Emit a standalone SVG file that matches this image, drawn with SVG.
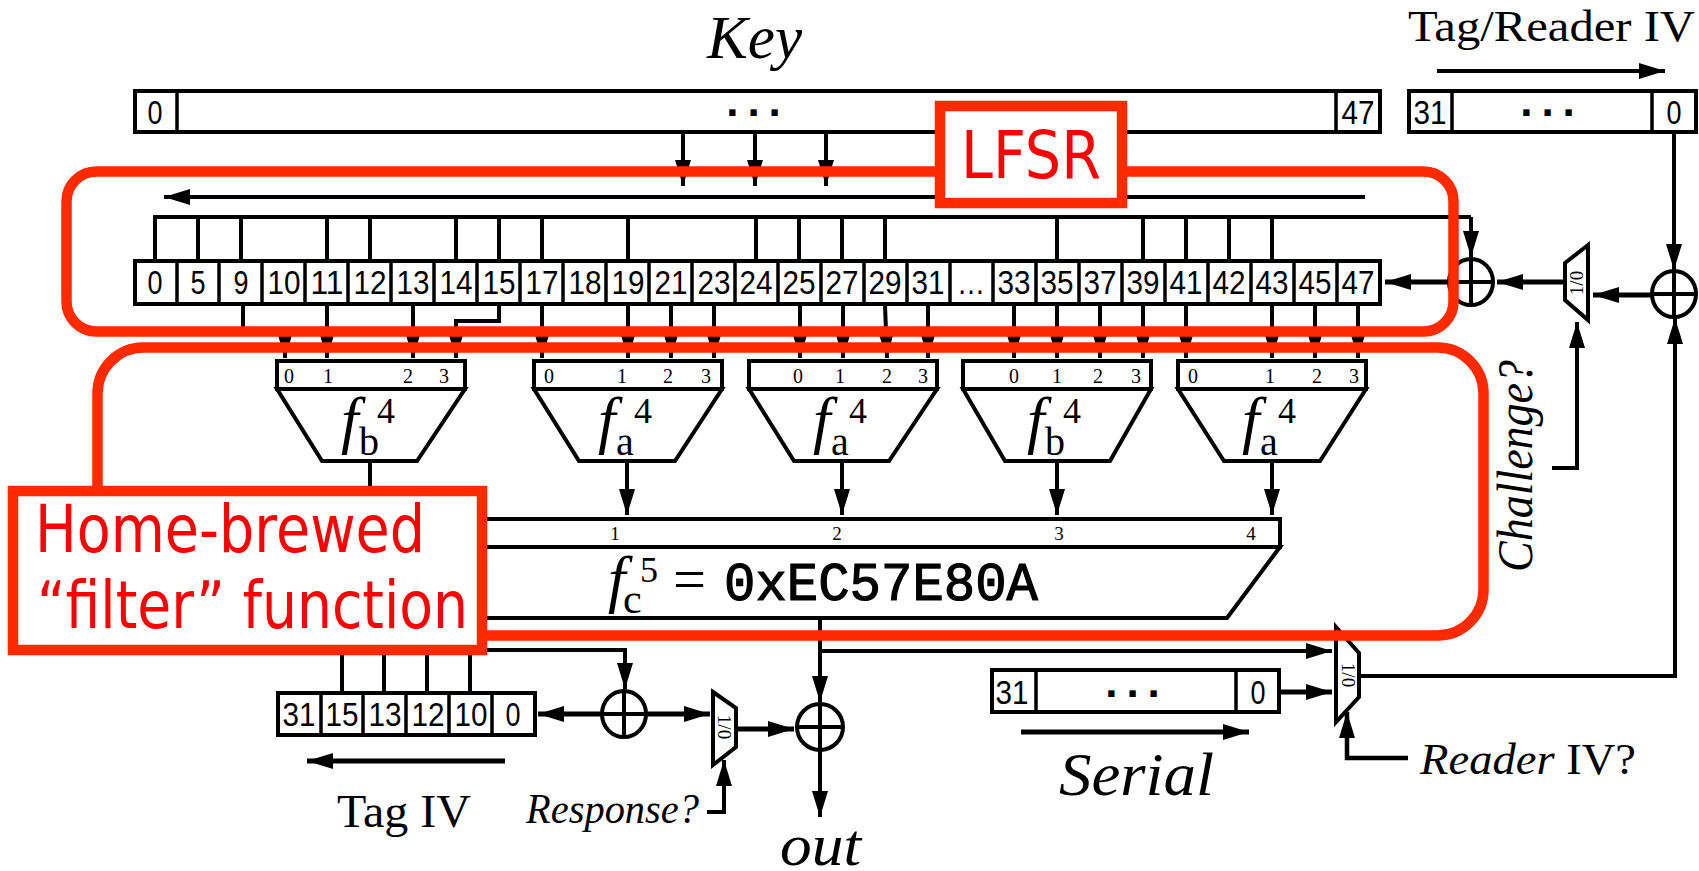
<svg xmlns="http://www.w3.org/2000/svg" width="1699" height="871" viewBox="0 0 1699 871">
<style>
.b{fill:#fff;stroke:#000;stroke-width:4}
.n{fill:none;stroke:#000;stroke-width:4}
.a{fill:none;stroke:#000;stroke-width:4;marker-end:url(#h)}
.t{fill:none;stroke:#000;stroke-width:3.5}
.s{font-family:"Liberation Sans",Arial,sans-serif;font-size:33px;text-anchor:middle;fill:#000}
.r{font-family:"Liberation Serif","Times New Roman",serif;fill:#000}
.i{font-style:italic}
.p{font-size:20px;text-anchor:middle}
.f{font-size:63px;font-style:italic}
.u{font-size:36px}
.v{font-size:40px}
.red{fill:none;stroke:#ff2a00;stroke-width:10.5}
.rb{fill:#fff;stroke:#ff2a00;stroke-width:10.5}
.rt{font-family:"DejaVu Sans",Tahoma,sans-serif;font-size:65px;fill:#f00}
.d{font-family:"Liberation Sans",Arial,sans-serif;font-weight:bold;font-size:44px;letter-spacing:9px;text-anchor:middle;fill:#000}
.m{font-size:19px;text-anchor:middle}
</style>
<defs>
<marker id="h" markerUnits="userSpaceOnUse" markerWidth="27" markerHeight="18" refX="26" refY="9" orient="auto"><path d="M0 1 L26 9 L0 17 Z" fill="#000"/></marker>
</defs>
<rect width="1699" height="871" fill="#fff"/>

<text id="label-key" class="r i" x="707" y="58" font-size="62" textLength="95" lengthAdjust="spacingAndGlyphs">Key</text>
<text id="label-tagreader" class="r" x="1408" y="41" font-size="45" textLength="287" lengthAdjust="spacingAndGlyphs">Tag/Reader IV</text>
<text id="label-tagiv" class="r" x="337" y="827" font-size="46" textLength="134" lengthAdjust="spacingAndGlyphs">Tag IV</text>
<text id="label-response" class="r i" x="526" y="823" font-size="43" textLength="173" lengthAdjust="spacingAndGlyphs">Response?</text>
<text id="label-out" class="r i" x="780" y="865" font-size="60" textLength="81" lengthAdjust="spacingAndGlyphs">out</text>
<text id="label-serial" class="r i" x="1059" y="795" font-size="62" textLength="155" lengthAdjust="spacingAndGlyphs">Serial</text>
<text id="label-readeriv" class="r" x="1420" y="774" font-size="45" textLength="216" lengthAdjust="spacingAndGlyphs"><tspan class="i">Reader</tspan> IV?</text>
<text id="label-challenge" class="r i" transform="translate(1532 572) rotate(-90)" font-size="50" textLength="212" lengthAdjust="spacingAndGlyphs">Challenge?</text>

<g id="connectors">
<path class="a" d="M683 133V186"/><path class="a" d="M755 133V186"/><path class="a" d="M826 133V186"/>
<path class="a" d="M1365 197H164"/>
<path class="a" d="M1437 71H1665"/>
<path class="n" d="M155 259V217H1471"/>
<path class="a" d="M1471 217V257"/>
<path class="n" d="M198 217V259M241 217V259M327 217V259M370 217V259M456 217V259M499 217V259M542 217V259M628 217V259M756 217V259M799 217V259M842 217V259M885 217V259M1057 217V259M1143 217V259M1186 217V259M1229 217V259M1272 217V259"/>
<path class="a" d="M243 305V331H285V358"/>
<path class="a" d="M327 305V358"/><path class="a" d="M413 305V358"/>
<path class="a" d="M499 305V321H456V358"/>
<path class="a" d="M542 305V358"/><path class="a" d="M628 305V358"/><path class="a" d="M671 305V358"/><path class="a" d="M714 305V358"/>
<path class="a" d="M800 305V358"/><path class="a" d="M843 305V358"/><path class="a" d="M885 305L887 358"/><path class="a" d="M928 305V358"/>
<path class="a" d="M1014 305V358"/><path class="a" d="M1057 305V358"/><path class="a" d="M1100 305V358"/><path class="a" d="M1143 305V358"/><path class="a" d="M1186 305V358"/>
<path class="a" d="M1272 305V358"/><path class="a" d="M1315 305V358"/><path class="a" d="M1358 305V358"/>
<path class="a" d="M1471 282H1385" style="stroke-width:5"/>
<path class="a" d="M1565 282H1497" style="stroke-width:5"/>
<path class="a" d="M1674 133V270"/>
<path class="a" d="M1674 295H1593" style="stroke-width:5"/>
<path class="a" d="M1361 676H1675V318"/>
<path class="a" d="M1552 468H1577V322"/>
<path class="n" d="M370 461V520"/>
<path class="a" d="M627 461V515"/><path class="a" d="M842 461V515"/><path class="a" d="M1057 461V515"/><path class="a" d="M1272 461V515"/>
<path class="a" d="M820 618V702"/>
<path class="a" d="M820 651H1332"/>
<path class="a" d="M820 750V817"/>
<path class="a" d="M460 650H625V689"/>
<path class="a" d="M624 714H538" style="stroke-width:5"/>
<path class="a" d="M624 714H710" style="stroke-width:5"/>
<path class="a" d="M736 729H794" style="stroke-width:5"/>
<path class="a" d="M707 812H724V760"/>
<path class="a" d="M1280 692H1332" style="stroke-width:5"/>
<path class="a" d="M1408 758H1347V712" style="stroke-width:4.500"/>
<path class="n" d="M342 655V692M384 655V692M427 655V692M470 655V692"/>
<path class="a" d="M505 761H307" style="stroke-width:5"/>
<path class="a" d="M1021 732H1249" style="stroke-width:5"/>
</g>

<g id="key">
<rect class="b" x="135" y="91" width="1245" height="41"/>
<path class="t" d="M177 91V132M1336 91V132"/>
<text class="s" x="155" y="124" textLength="15" lengthAdjust="spacingAndGlyphs">0</text><text class="d" x="758" y="116">...</text><text class="s" x="1358" y="124" textLength="33" lengthAdjust="spacingAndGlyphs">47</text>
</g>
<g id="tag-reader-iv">
<rect class="b" x="1409" y="91" width="287" height="41"/>
<path class="t" d="M1452 91V132M1652 91V132"/>
<text class="s" x="1430" y="124" textLength="33" lengthAdjust="spacingAndGlyphs">31</text><text class="d" x="1552" y="116">...</text><text class="s" x="1674" y="124" textLength="15" lengthAdjust="spacingAndGlyphs">0</text>
</g>
<g id="lfsr-register">
<rect class="b" x="135" y="261" width="1245" height="43"/>
<path class="t" d="M177 261V304M219 261V304M262 261V304M305 261V304M348 261V304M391 261V304M434 261V304M477 261V304M520 261V304M563 261V304M606 261V304M649 261V304M692 261V304M735 261V304M778 261V304M821 261V304M864 261V304M907 261V304M950 261V304M993 261V304M1036 261V304M1079 261V304M1122 261V304M1165 261V304M1208 261V304M1251 261V304M1294 261V304M1337 261V304"/>
<text class="s" x="155" y="294" textLength="15" lengthAdjust="spacingAndGlyphs">0</text><text class="s" x="198" y="294" textLength="15" lengthAdjust="spacingAndGlyphs">5</text><text class="s" x="241" y="294" textLength="15" lengthAdjust="spacingAndGlyphs">9</text><text class="s" x="284" y="294" textLength="33" lengthAdjust="spacingAndGlyphs">10</text><text class="s" x="327" y="294" textLength="33" lengthAdjust="spacingAndGlyphs">11</text><text class="s" x="370" y="294" textLength="33" lengthAdjust="spacingAndGlyphs">12</text><text class="s" x="413" y="294" textLength="33" lengthAdjust="spacingAndGlyphs">13</text><text class="s" x="456" y="294" textLength="33" lengthAdjust="spacingAndGlyphs">14</text><text class="s" x="499" y="294" textLength="33" lengthAdjust="spacingAndGlyphs">15</text><text class="s" x="542" y="294" textLength="33" lengthAdjust="spacingAndGlyphs">17</text><text class="s" x="585" y="294" textLength="33" lengthAdjust="spacingAndGlyphs">18</text><text class="s" x="628" y="294" textLength="33" lengthAdjust="spacingAndGlyphs">19</text><text class="s" x="671" y="294" textLength="33" lengthAdjust="spacingAndGlyphs">21</text><text class="s" x="714" y="294" textLength="33" lengthAdjust="spacingAndGlyphs">23</text><text class="s" x="756" y="294" textLength="33" lengthAdjust="spacingAndGlyphs">24</text><text class="s" x="799" y="294" textLength="33" lengthAdjust="spacingAndGlyphs">25</text><text class="s" x="842" y="294" textLength="33" lengthAdjust="spacingAndGlyphs">27</text><text class="s" x="885" y="294" textLength="33" lengthAdjust="spacingAndGlyphs">29</text><text class="s" x="928" y="294" textLength="33" lengthAdjust="spacingAndGlyphs">31</text><text class="s" x="971" y="294" textLength="28" lengthAdjust="spacingAndGlyphs">…</text><text class="s" x="1014" y="294" textLength="33" lengthAdjust="spacingAndGlyphs">33</text><text class="s" x="1057" y="294" textLength="33" lengthAdjust="spacingAndGlyphs">35</text><text class="s" x="1100" y="294" textLength="33" lengthAdjust="spacingAndGlyphs">37</text><text class="s" x="1143" y="294" textLength="33" lengthAdjust="spacingAndGlyphs">39</text><text class="s" x="1186" y="294" textLength="33" lengthAdjust="spacingAndGlyphs">41</text><text class="s" x="1229" y="294" textLength="33" lengthAdjust="spacingAndGlyphs">42</text><text class="s" x="1272" y="294" textLength="33" lengthAdjust="spacingAndGlyphs">43</text><text class="s" x="1315" y="294" textLength="33" lengthAdjust="spacingAndGlyphs">45</text><text class="s" x="1358" y="294" textLength="33" lengthAdjust="spacingAndGlyphs">47</text>
</g>
<g id="xor-feedback"><ellipse class="b" cx="1471" cy="282" rx="22" ry="23"/><path class="n" d="M1449 282H1493M1471 259V305"/></g>
<g id="xor-input"><ellipse class="b" cx="1674" cy="294" rx="22" ry="23"/><path class="n" d="M1652 294H1696M1674 271V317"/></g>
<g id="mux-challenge"><path class="b" d="M1565 263L1588 245V320L1565 300Z"/><text class="r m" transform="translate(1583 283) rotate(-90)">1/0</text></g>

<g id="fb-1">
<path class="b" d="M277 389H465L417 461H322Z"/><rect class="b" x="277" y="361" width="188" height="28"/>
<text class="r p" x="289" y="383">0</text><text class="r p" x="328" y="383">1</text><text class="r p" x="408" y="383">2</text><text class="r p" x="444" y="383">3</text>
<text class="r f" x="341" y="441">f</text><text class="r u" x="377" y="423">4</text><text class="r v" x="359" y="455">b</text>
</g>
<g id="fa-2">
<path class="b" d="M534 389H722L675 461H579Z"/><rect class="b" x="534" y="361" width="188" height="28"/>
<text class="r p" x="549" y="383">0</text><text class="r p" x="622" y="383">1</text><text class="r p" x="668" y="383">2</text><text class="r p" x="706" y="383">3</text>
<text class="r f" x="598" y="441">f</text><text class="r u" x="634" y="423">4</text><text class="r v" x="616" y="455">a</text>
</g>
<g id="fa-3">
<path class="b" d="M749 389H937L889 461H794Z"/><rect class="b" x="749" y="361" width="188" height="28"/>
<text class="r p" x="798" y="383">0</text><text class="r p" x="840" y="383">1</text><text class="r p" x="887" y="383">2</text><text class="r p" x="923" y="383">3</text>
<text class="r f" x="813" y="441">f</text><text class="r u" x="849" y="423">4</text><text class="r v" x="831" y="455">a</text>
</g>
<g id="fb-4">
<path class="b" d="M963 389H1151L1110 461H1005Z"/><rect class="b" x="963" y="361" width="188" height="28"/>
<text class="r p" x="1014" y="383">0</text><text class="r p" x="1057" y="383">1</text><text class="r p" x="1098" y="383">2</text><text class="r p" x="1136" y="383">3</text>
<text class="r f" x="1027" y="441">f</text><text class="r u" x="1063" y="423">4</text><text class="r v" x="1045" y="455">b</text>
</g>
<g id="fa-5">
<path class="b" d="M1178 389H1366L1320 461H1224Z"/><rect class="b" x="1178" y="361" width="188" height="28"/>
<text class="r p" x="1193" y="383">0</text><text class="r p" x="1270" y="383">1</text><text class="r p" x="1317" y="383">2</text><text class="r p" x="1354" y="383">3</text>
<text class="r f" x="1242" y="441">f</text><text class="r u" x="1278" y="423">4</text><text class="r v" x="1260" y="455">a</text>
</g>
<g id="fc">
<path class="b" d="M277 547H1280L1227 618H277Z"/><rect class="b" x="277" y="519" width="1003" height="28"/>
<text class="r m" x="615" y="540">1</text><text class="r m" x="837" y="540">2</text><text class="r m" x="1059" y="540">3</text><text class="r m" x="1251" y="540">4</text>
<text class="r f" x="608" y="600">f</text><text class="r u" x="640" y="582">5</text><text class="r" x="623" y="613" font-size="42">c</text>
<text class="r" x="673" y="600" font-size="62" textLength="33" lengthAdjust="spacingAndGlyphs">=</text>
<text x="724" y="600" font-family="Liberation Mono,monospace" font-size="54" stroke="#000" stroke-width="1.2" fill="#000" textLength="314" lengthAdjust="spacingAndGlyphs">0xEC57E80A</text>
</g>
<g id="tag-iv">
<rect class="b" x="278" y="693" width="257" height="42"/>
<path class="t" d="M321 693V735M363 693V735M406 693V735M449 693V735M492 693V735"/>
<text class="s" x="299" y="726" textLength="33" lengthAdjust="spacingAndGlyphs">31</text><text class="s" x="342" y="726" textLength="33" lengthAdjust="spacingAndGlyphs">15</text><text class="s" x="385" y="726" textLength="33" lengthAdjust="spacingAndGlyphs">13</text><text class="s" x="428" y="726" textLength="33" lengthAdjust="spacingAndGlyphs">12</text><text class="s" x="471" y="726" textLength="33" lengthAdjust="spacingAndGlyphs">10</text><text class="s" x="513" y="726" textLength="15" lengthAdjust="spacingAndGlyphs">0</text>
</g>
<g id="xor-tag"><ellipse class="b" cx="624" cy="714" rx="22" ry="23"/><path class="n" d="M602 714H646M624 691V737"/></g>
<g id="mux-response"><path class="b" d="M713 692L736 708V747L713 765Z"/><text class="r m" transform="translate(718 727) rotate(90)">1/0</text></g>
<g id="xor-out"><ellipse class="b" cx="820" cy="727" rx="23" ry="23"/><path class="n" d="M797 727H843M820 704V750"/></g>
<g id="serial">
<rect class="b" x="992" y="670" width="287" height="42"/>
<path class="t" d="M1036 670V712M1236 670V712"/>
<text class="s" x="1012" y="704" textLength="33" lengthAdjust="spacingAndGlyphs">31</text><text class="d" x="1137" y="697">...</text><text class="s" x="1258" y="704" textLength="15" lengthAdjust="spacingAndGlyphs">0</text>
</g>
<g id="mux-reader"><path class="b" d="M1336 627L1359 653V697L1336 722Z"/><text class="r m" transform="translate(1342 675) rotate(90)">1/0</text></g>

<g id="lfsr-outline"><rect class="red" x="66.500" y="171.500" width="1387" height="160" rx="30" ry="30"/></g>
<g id="filter-outline"><rect class="red" x="97.500" y="347.500" width="1386" height="288" rx="46" ry="46"/></g>
<g id="lfsr-label"><rect class="rb" x="940" y="106" width="182" height="97"/><text class="rt" x="961" y="178" textLength="140" lengthAdjust="spacingAndGlyphs">LFSR</text></g>
<g id="filter-label"><rect class="rb" x="13" y="491" width="469" height="159"/><text class="rt" x="35" y="552" textLength="390" lengthAdjust="spacingAndGlyphs">Home-brewed</text><text class="rt" x="37" y="628" textLength="431" lengthAdjust="spacingAndGlyphs">“filter” function</text></g>
</svg>
